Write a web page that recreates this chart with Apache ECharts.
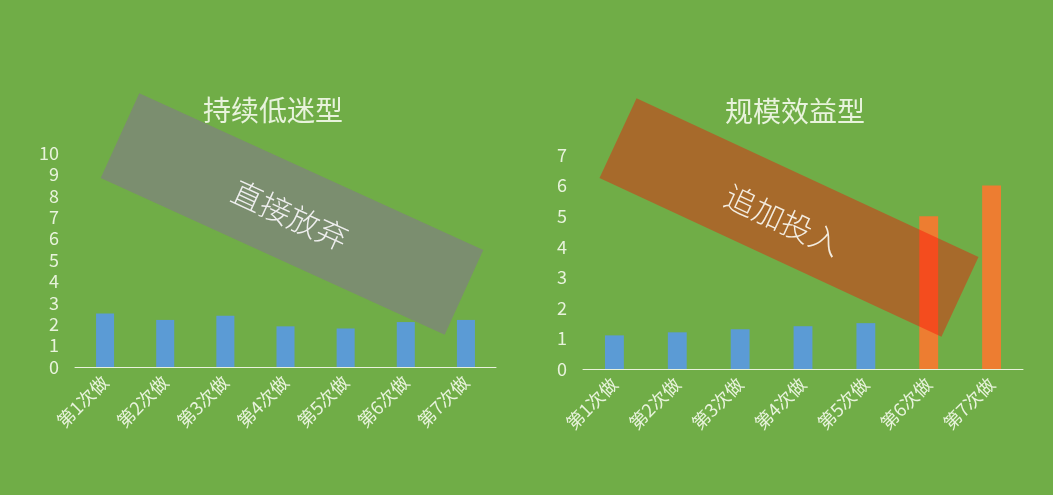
<!DOCTYPE html>
<html>
<head>
<meta charset="utf-8">
<script src="https://cdn.jsdelivr.net/npm/echarts@6/dist/echarts.min.js"></script>
<style>
  html, body { margin: 0; padding: 0; background: #70ad47; }
  #main { width: 1053px; height: 495px; }
</style>
</head>
<body>
<div id="main"></div>
<script>
// 数据
const categories = ['第1次做', '第2次做', '第3次做', '第4次做', '第5次做', '第6次做', '第7次做'];
const lowValues = [2.5, 2.2, 2.4, 1.9, 1.8, 2.1, 2.2];     // 持续低迷型
const scaleValues = [1.1, 1.2, 1.3, 1.4, 1.5, 5, 6];       // 规模效益型
const titles = ['持续低迷型', '规模效益型'];
const notes = ['直接放弃', '追加投入'];
const jumpIndex = 5; // 从第6次开始变橙色

const FONT = '"Noto Sans CJK SC", "Noto Sans", sans-serif';
const TEXT = '#e8f3dc';
const BLUE = '#5b9bd5';
const ORANGE = '#ed7d31';

const chartDom = document.getElementById('main');
const myChart = echarts.init(chartDom);

function xAxisOf(grid) {
  return {
    type: 'category',
    gridIndex: grid,
    data: categories,
    axisLine: { show: true, lineStyle: { color: '#e8f2dc', width: 1 } },
    axisTick: { show: false },
    axisLabel: { interval: 0, rotate: 45, margin: 12, color: TEXT, fontSize: 18, fontFamily: FONT }
  };
}

function yAxisOf(grid, max) {
  return {
    type: 'value',
    gridIndex: grid,
    min: 0,
    max: max,
    interval: 1,
    axisLine: { show: false },
    axisTick: { show: false },
    splitLine: { show: false },
    axisLabel: { margin: 16, color: TEXT, fontSize: 18, fontFamily: FONT }
  };
}

function box(cx, cy, w, h, deg, fill) {
  return {
    type: 'rect',
    x: cx, y: cy,
    rotation: -deg * Math.PI / 180,
    shape: { x: -w / 2, y: -h / 2, width: w, height: h },
    style: { fill: fill },
    z: 100
  };
}

function note(cx, cy, deg, text, color) {
  return {
    type: 'text',
    x: cx, y: cy,
    rotation: -deg * Math.PI / 180,
    style: {
      text: text, fill: color, fontSize: 31, fontFamily: FONT, fontWeight: 300,
      align: 'center', verticalAlign: 'middle',
      textAlign: 'center', textVerticalAlign: 'middle'
    },
    z: 101
  };
}

let option = {
  backgroundColor: '#70ad47',
  title: [
    { text: titles[0], left: 268, top: 105, textAlign: 'center', textVerticalAlign: 'middle',
      textStyle: { color: TEXT, fontSize: 28, fontWeight: 'normal', fontFamily: FONT } },
    { text: titles[1], left: 790, top: 106, textAlign: 'center', textVerticalAlign: 'middle',
      textStyle: { color: TEXT, fontSize: 28, fontWeight: 'normal', fontFamily: FONT } }
  ],
  grid: [
    { left: 75, right: 557, top: 153, bottom: 128 },
    { left: 583, right: 30, top: 155, bottom: 126 }
  ],
  xAxis: [xAxisOf(0), xAxisOf(1)],
  yAxis: [yAxisOf(0, 10), yAxisOf(1, 7)],
  series: [
    {
      type: 'bar',
      xAxisIndex: 0,
      yAxisIndex: 0,
      barWidth: '30%',
      data: lowValues,
      itemStyle: { color: BLUE }
    },
    {
      type: 'bar',
      xAxisIndex: 1,
      yAxisIndex: 1,
      barWidth: '30%',
      data: scaleValues,
      itemStyle: { color: (p) => (p.dataIndex >= jumpIndex ? ORANGE : BLUE) }
    }
  ],
  graphic: [
    box(292, 214, 378, 93, 24.5, 'rgba(128,128,128,0.7)'),
    note(290, 215, 24.5, notes[0], '#eeeeee'),
    box(789, 217.5, 377, 88, 24.9, 'rgba(255,0,0,0.39)'),
    note(783, 220, 24.9, notes[1], '#f3ece0')
  ]
};

option && myChart.setOption(option);
</script>
</body>
</html>
